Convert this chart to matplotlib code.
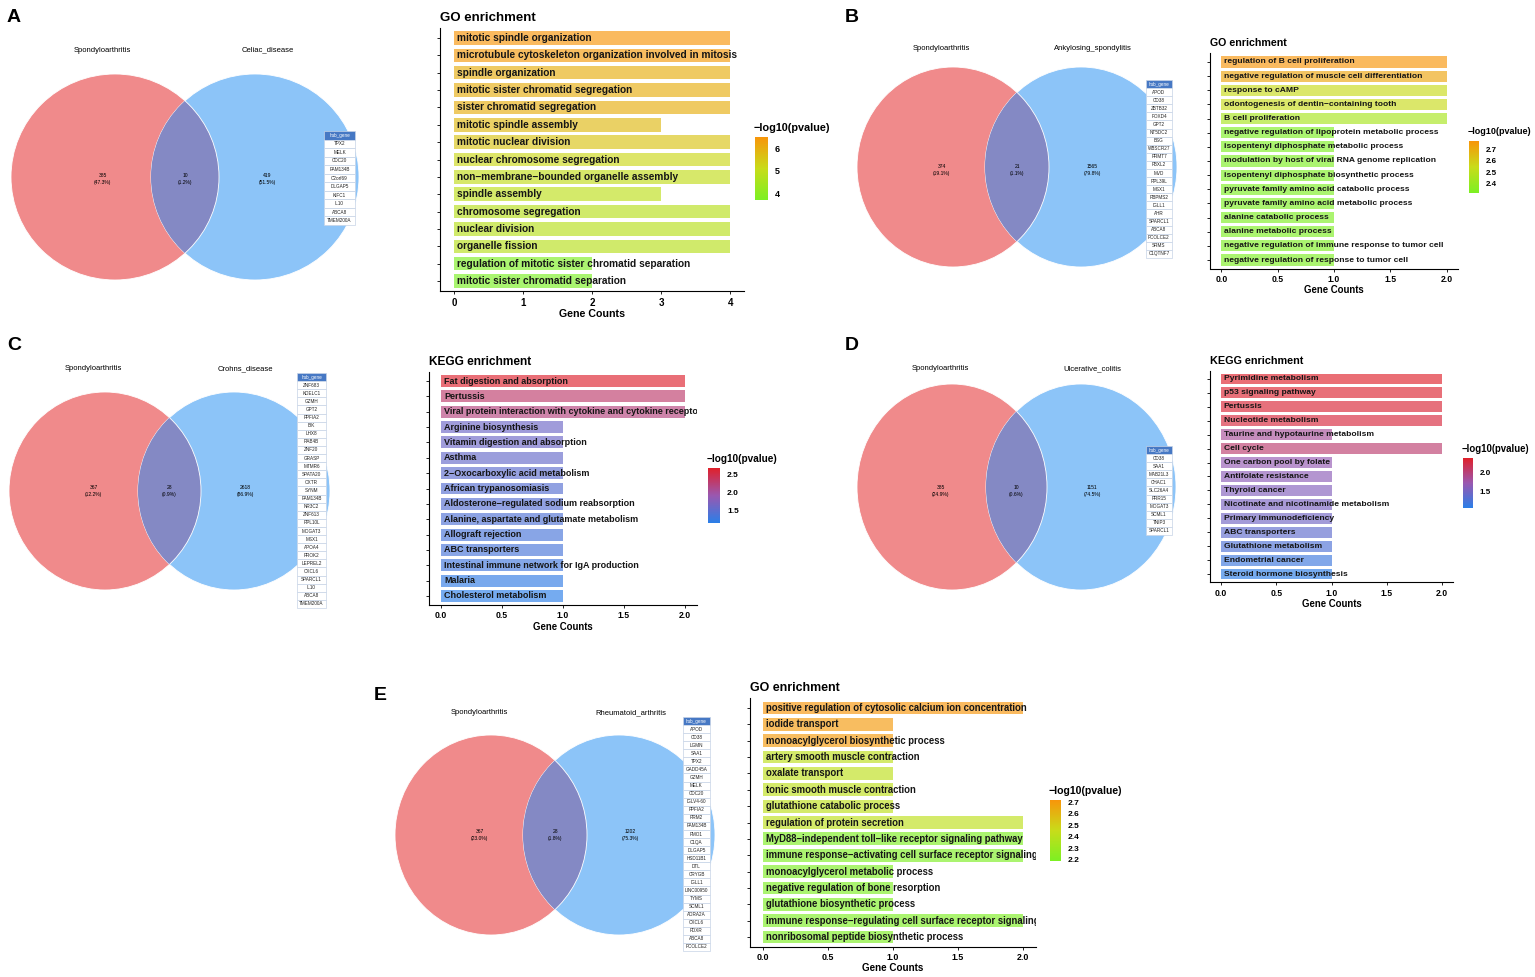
import numpy as np
import matplotlib
matplotlib.use("Agg")
import matplotlib.pyplot as plt
from matplotlib.patches import Ellipse, Rectangle
from matplotlib.colors import LinearSegmentedColormap, Normalize
from matplotlib.colorbar import ColorbarBase

plt.rcParams['font.family'] = ['Liberation Sans', 'DejaVu Sans']

W, H = 1535, 977
M = '\u2212'

# ---------------- data ----------------
disease_names = ['Celiac_disease', 'Ankylosing_spondylitis', 'Crohns_disease',
                 'Ulcerative_colitis', 'Rheumatoid_arthritis']
spa_only = [385, 374, 367, 385, 367]
shared = [10, 21, 28, 10, 28]
other_only = [419, 1565, 2618, 1151, 1202]

hub_a = ['TPX2', 'MELK', 'CDC20', 'FAM134B', 'C2orf69', 'DLGAP5', 'KIFC1', 'IL10',
         'ABCA8', 'TMEM200A']
hub_b = ['APOD', 'CD38', 'ZBTB32', 'FOXD4', 'GPT2', 'NT5DC2', 'BSG', 'WBSCR27', 'PRMT7',
         'FBXL2', 'MVD', 'RPL39L', 'MSX1', 'RBPMS2', 'IGLL1', 'AHR', 'SPARCL1', 'ABCA8',
         'PCOLCE2', 'SRMS', 'C1QTNF7']
hub_c = ['ZNF683', 'KDELC1', 'GZMH', 'GPT2', 'PPFIA2', 'BIK', 'LHX8', 'RAB4B', 'ZNF20',
         'GRASP', 'MTMR6', 'SPATA20', 'OXTR', 'SYNM', 'FAM134B', 'NR3C2', 'ZNF613',
         'RPL10L', 'MOGAT3', 'MSX1', 'APOA4', 'PROK2', 'LEPREL2', 'CXCL6', 'SPARCL1',
         'IL10', 'ABCA8', 'TMEM200A']
hub_d = ['CD38', 'SAA1', 'MAB21L3', 'CHAC1', 'SLC26A4', 'PRR15', 'MOGAT3', 'SCML1',
         'TNIP3', 'SPARCL1']
hub_e = ['APOD', 'CD38', 'LGMN', 'SAA1', 'TPX2', 'GADD45A', 'GZMH', 'MELK', 'CDC20',
         'IGLV4-60', 'PPFIA2', 'RRM2', 'FAM134B', 'FMO1', 'C1QA', 'DLGAP5', 'HSD11B1',
         'DTL', 'CRYGB', 'IGLL1', 'LINC00950', 'TYMS', 'SCML1', 'ADRA2A', 'CXCL6', 'FDXR',
         'ABCA8', 'PCOLCE2']

terms_a = ['mitotic spindle organization',
           'microtubule cytoskeleton organization involved in mitosis',
           'spindle organization', 'mitotic sister chromatid segregation',
           'sister chromatid segregation', 'mitotic spindle assembly',
           'mitotic nuclear division', 'nuclear chromosome segregation',
           f'non{M}membrane{M}bounded organelle assembly', 'spindle assembly',
           'chromosome segregation', 'nuclear division', 'organelle fission',
           'regulation of mitotic sister chromatid separation',
           'mitotic sister chromatid separation']
counts_a = [4, 4, 4, 4, 4, 3, 4, 4, 4, 3, 4, 4, 4, 2, 2]
logp_a = [6.5, 6.4, 6.0, 6.0, 6.0, 5.8, 5.6, 5.2, 5.0, 4.9, 4.8, 4.8, 4.8, 3.75, 3.7]

terms_b = ['regulation of B cell proliferation',
           'negative regulation of muscle cell differentiation',
           'response to cAMP', f'odontogenesis of dentin{M}containing tooth',
           'B cell proliferation', 'negative regulation of lipoprotein metabolic process',
           'isopentenyl diphosphate metabolic process',
           'modulation by host of viral RNA genome replication',
           'isopentenyl diphosphate biosynthetic process',
           'pyruvate family amino acid catabolic process',
           'pyruvate family amino acid metabolic process',
           'alanine catabolic process', 'alanine metabolic process',
           'negative regulation of immune response to tumor cell',
           'negative regulation of response to tumor cell']
counts_b = [2, 2, 2, 2, 2, 1, 1, 1, 1, 1, 1, 1, 1, 1, 1]
logp_b = [2.77, 2.72, 2.55, 2.55, 2.45, 2.33, 2.33, 2.33, 2.33, 2.33, 2.33, 2.33, 2.33,
          2.33, 2.33]

terms_c = ['Fat digestion and absorption', 'Pertussis',
           'Viral protein interaction with cytokine and cytokine receptor',
           'Arginine biosynthesis', 'Vitamin digestion and absorption', 'Asthma',
           f'2{M}Oxocarboxylic acid metabolism', 'African trypanosomiasis',
           f'Aldosterone{M}regulated sodium reabsorption',
           'Alanine, aspartate and glutamate metabolism', 'Allograft rejection',
           'ABC transporters', 'Intestinal immune network for IgA production',
           'Malaria', 'Cholesterol metabolism']
counts_c = [2, 2, 2, 1, 1, 1, 1, 1, 1, 1, 1, 1, 1, 1, 1]
logp_c = [2.65, 2.3, 2.2, 1.6, 1.6, 1.55, 1.5, 1.45, 1.45, 1.4, 1.35, 1.35, 1.3, 1.2, 1.15]

terms_d = ['Pyrimidine metabolism', 'p53 signaling pathway', 'Pertussis',
           'Nucleotide metabolism', 'Taurine and hypotaurine metabolism', 'Cell cycle',
           'One carbon pool by folate', 'Antifolate resistance', 'Thyroid cancer',
           'Nicotinate and nicotinamide metabolism', 'Primary immunodeficiency',
           'ABC transporters', 'Glutathione metabolism', 'Endometrial cancer',
           'Steroid hormone biosynthesis']
counts_d = [2, 2, 2, 2, 1, 2, 1, 1, 1, 1, 1, 1, 1, 1, 1]
logp_d = [2.38, 2.35, 2.33, 2.3, 1.85, 2.05, 1.7, 1.65, 1.6, 1.55, 1.5, 1.4, 1.3, 1.2, 1.1]

terms_e = ['positive regulation of cytosolic calcium ion concentration',
           'iodide transport', 'monoacylglycerol biosynthetic process',
           'artery smooth muscle contraction', 'oxalate transport',
           'tonic smooth muscle contraction', 'glutathione catabolic process',
           'regulation of protein secretion',
           f'MyD88{M}independent toll{M}like receptor signaling pathway',
           f'immune response{M}activating cell surface receptor signaling pathway',
           'monoacylglycerol metabolic process', 'negative regulation of bone resorption',
           'glutathione biosynthetic process',
           f'immune response{M}regulating cell surface receptor signaling pathway',
           'nonribosomal peptide biosynthetic process']
counts_e = [2, 1, 1, 1, 1, 1, 1, 2, 2, 2, 1, 1, 1, 2, 1]
logp_e = [2.72, 2.7, 2.7, 2.42, 2.42, 2.42, 2.42, 2.42, 2.2, 2.2, 2.2, 2.2, 2.2, 2.2, 2.2]

go_cmap = LinearSegmentedColormap.from_list('go', ['#7CF023', '#C8DC1A', '#F8950A'])
kegg_cmap = LinearSegmentedColormap.from_list('kegg', ['#2A7FE8', '#9A58B0', '#E0202A'])

fig = plt.figure(figsize=(W / 100, H / 100), dpi=100)


def px_axes(x0, y0, x1, y1):
    return fig.add_axes([x0 / W, 1 - y1 / H, (x1 - x0) / W, (y1 - y0) / H])


bg = fig.add_axes([0, 0, 1, 1])
bg.set_xlim(0, W)
bg.set_ylim(H, 0)
bg.axis('off')


def venn(lc, rc, rx, ry, title_y, num_y, idx, table_box, genes):
    left = Ellipse(lc, 2 * rx, 2 * ry, facecolor='#F08A8B', edgecolor='white', lw=0.6)
    right = Ellipse(rc, 2 * rx, 2 * ry, facecolor='#8CC4F8', edgecolor='white', lw=0.6)
    bg.add_patch(left)
    bg.add_patch(right)
    lens = Ellipse(lc, 2 * rx, 2 * ry, facecolor='#8489C4', edgecolor='white', lw=0.6)
    bg.add_patch(lens)
    lens.set_clip_path(right)
    tot = spa_only[idx] + shared[idx] + other_only[idx]
    mid = (lc[0] + rc[0]) / 2
    xs = [lc[0] - 0.12 * rx, mid, rc[0] + 0.12 * rx]
    for x, n in zip(xs, [spa_only[idx], shared[idx], other_only[idx]]):
        bg.text(x, num_y, f'{n}\n({100 * n / tot:.1f}%)', ha='center', va='center',
                fontsize=3.6, linespacing=1.5)
    bg.text(xs[0], title_y, 'Spondyloarthritis', ha='center', va='center', fontsize=5.5)
    bg.text(xs[2], title_y, disease_names[idx], ha='center', va='center', fontsize=5.5)
    # hub gene table
    x0, y0, x1, y1 = table_box
    rows = ['hub_gene'] + genes
    rh = (y1 - y0) / len(rows)
    for i, g in enumerate(rows):
        head = i == 0
        bg.add_patch(Rectangle((x0, y0 + i * rh), x1 - x0, rh,
                               facecolor='#4678C4' if head else 'white',
                               edgecolor='#C6D3E6', lw=0.5))
        bg.text((x0 + x1) / 2, y0 + (i + 0.5) * rh, g, ha='center', va='center',
                fontsize=3.3, color='white' if head else '#222222')


def bar_panel(box, terms, counts, logp, cmap, vlim, fs, title, title_fs, tick_fs,
              cbar_box, cticks, ct_fs, cl_fs):
    ax = px_axes(*box)
    n = len(terms)
    y = np.arange(n)
    xmax = max(counts)
    norm = Normalize(*vlim)
    ax.barh(y, counts, height=0.78, color=cmap(norm(np.array(logp))), alpha=0.65)
    for yi, t in zip(y, terms):
        ax.text(0.012 * xmax, yi, t, ha='left', va='center', fontsize=fs,
                fontweight='bold', color='#151515', clip_on=True)
    ax.set_xlim(-0.05 * xmax, 1.05 * xmax)
    ax.set_ylim(n - 0.4, -0.6)
    ax.set_yticks(y)
    ax.set_yticklabels([])
    ax.tick_params(axis='y', length=2, width=0.6)
    ax.tick_params(axis='x', length=2.5, width=0.6, labelsize=tick_fs, pad=2)
    if xmax > 2:
        ax.set_xticks(range(0, xmax + 1))
    else:
        ax.set_xticks(np.arange(0, xmax + 0.01, 0.5))
        ax.set_xticklabels([f'{v:.1f}' for v in np.arange(0, xmax + 0.01, 0.5)])
    for lab in ax.get_xticklabels():
        lab.set_fontweight('bold')
    for s in ['top', 'right']:
        ax.spines[s].set_visible(False)
    for s in ['left', 'bottom']:
        ax.spines[s].set_linewidth(0.8)
    ax.set_xlabel('Gene Counts', fontsize=tick_fs + 0.7, fontweight='bold', labelpad=1)
    fig.text(box[0] / W, 1 - (box[1] - 10) / H, title, fontsize=title_fs,
             fontweight='bold', va='center', ha='left')
    cax = px_axes(*cbar_box)
    cb = ColorbarBase(cax, cmap=cmap, norm=norm)
    cb.outline.set_visible(False)
    cb.set_ticks(cticks)
    cax.tick_params(length=2, width=0.5, color='white', labelsize=cl_fs, pad=3)
    for lab in cax.get_yticklabels():
        lab.set_fontweight('bold')
    fig.text((cbar_box[0] - 1) / W, 1 - (cbar_box[1] - 9) / H, f'{M}log10(pvalue)',
             fontsize=ct_fs, fontweight='bold', va='center', ha='left')


# panel letters
for lab, (x, y) in zip('ABCDE', [(14, 18), (852, 18), (14, 345), (852, 345), (380, 695)]):
    bg.text(x, y, lab, fontsize=14, fontweight='bold', ha='center', va='center')

venn((115, 177), (255, 177), 104, 103, 50, 179, 0, (324, 131, 355, 225), hub_a)
venn((953, 167), (1081, 167), 96, 100, 48, 170, 1, (1146, 80, 1172, 258), hub_b)
venn((105, 491), (234, 491), 96, 99, 369, 491, 2, (297, 373, 326, 608), hub_c)
venn((952, 487), (1081, 487), 95, 103, 369, 491, 3, (1146, 446, 1172, 535), hub_d)
venn((491, 835), (619, 835), 96, 100, 713, 835, 4, (683, 717, 710, 951), hub_e)

bar_panel((440, 27.6, 744, 291.4), terms_a, counts_a, logp_a, go_cmap, (3.7, 6.5), 7.3,
          'GO enrichment', 9.5, 7, (755, 137, 768, 200), [4, 5, 6], 7.8, 6.5)
bar_panel((1210, 53.5, 1458, 268.5), terms_b, counts_b, logp_b, go_cmap, (2.32, 2.77), 6.1,
          'GO enrichment', 7.7, 6.2, (1469, 141, 1479, 193), [2.4, 2.5, 2.6, 2.7], 6.5, 5.8)
bar_panel((429, 371.8, 697, 605.2), terms_c, counts_c, logp_c, kegg_cmap, (1.14, 2.68), 6.5,
          'KEGG enrichment', 8.6, 6.2, (708, 468, 720, 523), [1.5, 2.0, 2.5], 7.2, 6)
bar_panel((1210, 370.6, 1453, 582.4), terms_d, counts_d, logp_d, kegg_cmap, (1.08, 2.39), 6.1,
          'KEGG enrichment', 7.8, 6.2, (1463, 458, 1473, 508), [1.5, 2.0], 6.9, 5.8)
bar_panel((750, 698.2, 1036, 946.8), terms_e, counts_e, logp_e, go_cmap, (2.19, 2.72), 6.85,
          'GO enrichment', 8.9, 6.4, (1050, 800, 1061, 861), [2.2, 2.3, 2.4, 2.5, 2.6, 2.7],
          7.6, 6)

fig.savefig('out.png', dpi=100, facecolor='white')
